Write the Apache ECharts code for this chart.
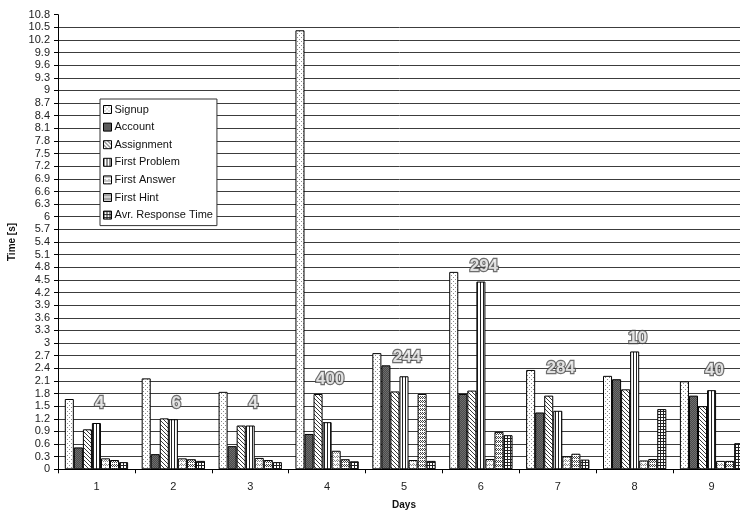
<!DOCTYPE html>
<html>
<head>
<meta charset="utf-8">
<script src="https://cdn.jsdelivr.net/npm/echarts@6/dist/echarts.min.js"></script>
<style>
  html, body { margin: 0; padding: 0; background: #fff; }
  #chart { width: 740px; height: 510px; }
</style>
</head>
<body>
<div id="chart"></div>
<script>
// Days on the x axis
const days = ['1', '2', '3', '4', '5', '6', '7', '8', '9'];

// Mean times in seconds per step and day
const signup       = [1.67, 2.16, 1.84, 10.43, 2.76, 4.69, 2.36, 2.22, 2.09];
const account      = [0.52, 0.36, 0.55, 0.84, 2.47, 1.79, 1.35, 2.14, 1.75];
const assignment   = [0.95, 1.21, 1.04, 1.79, 1.85, 1.87, 1.75, 1.90, 1.50];
const firstProblem = [1.10, 1.19, 1.04, 1.12, 2.21, 4.46, 1.39, 2.80, 1.88];
const firstAnswer  = [0.26, 0.26, 0.27, 0.44, 0.22, 0.245, 0.31, 0.21, 0.20];
const firstHint    = [0.22, 0.24, 0.22, 0.24, 1.79, 0.89, 0.37, 0.245, 0.20];
const avrResponse  = [0.17, 0.20, 0.17, 0.19, 0.20, 0.81, 0.23, 1.43, 0.62];

// Number of users per day and the height (in seconds) where each count is written
const userCounts = [4, 6, 4, 400, 244, 294, 284, 10, 40];
const countAt    = [1.57, 1.57, 1.57, 2.14, 2.65, 4.83, 2.41, 3.12, 2.34];

const seriesNames = ['Signup', 'Account', 'Assignment', 'First Problem',
                     'First Answer', 'First Hint', 'Avr. Response Time'];

// Small monochrome fill patterns, like the classic hatched bar fills
function makePattern(w, h, bg, draw) {
  const c = document.createElement('canvas');
  c.width = w; c.height = h;
  const ctx = c.getContext('2d');
  ctx.fillStyle = bg;
  ctx.fillRect(0, 0, w, h);
  draw(ctx);
  return { image: c, repeat: 'repeat' };
}
function px(ctx, color, pts) {
  ctx.fillStyle = color;
  pts.forEach(p => ctx.fillRect(p[0], p[1], 1, 1));
}

const fills = [
  // sparse dots
  makePattern(4, 4, '#ffffff', ctx => px(ctx, '#8a8a8a', [[1, 1], [3, 3]])),
  // dark fine texture
  makePattern(2, 2, '#4a4a4a', ctx => px(ctx, '#6e6e6e', [[0, 0], [1, 1]])),
  // diagonal hatch
  makePattern(4, 4, '#ffffff', ctx => px(ctx, '#3a3a3a', [[0, 0], [1, 1], [2, 2], [3, 3]])),
  // vertical stripes
  makePattern(3, 1, '#ffffff', ctx => px(ctx, '#222222', [[0, 0]])),
  // light zig-zag
  makePattern(4, 4, '#ffffff', ctx => px(ctx, '#8c8c8c', [[0, 0], [1, 1], [2, 0], [3, 1], [1, 3]])),
  // medium zig-zag
  makePattern(4, 4, '#ffffff', ctx => px(ctx, '#444444', [[0, 0], [1, 1], [2, 2], [3, 1], [0, 2], [2, 0]])),
  // small grid
  makePattern(3, 3, '#ffffff', ctx => {
    ctx.fillStyle = '#222222';
    ctx.fillRect(0, 0, 3, 1);
    ctx.fillRect(0, 0, 1, 3);
  })
];

const seriesData = [signup, account, assignment, firstProblem, firstAnswer, firstHint, avrResponse];

const barSeries = seriesNames.map((name, i) => ({
  name: name,
  type: 'bar',
  data: seriesData[i],
  barGap: '0%',
  barCategoryGap: '17.65%',
  itemStyle: { color: fills[i], borderColor: '#000', borderWidth: 1 },
  emphasis: { disabled: true },
  animation: false
}));

// Outlined user counts written above each day's group
const countSeries = {
  name: 'users',
  type: 'scatter',
  data: countAt,
  symbolSize: 0,
  silent: true,
  z: 10,
  animation: false,
  label: {
    show: true,
    position: 'inside',
    offset: [3, 0],
    formatter: p => String(userCounts[p.dataIndex]),
    fontFamily: 'Liberation Sans, Arial, sans-serif',
    fontWeight: 'bold',
    fontSize: 17,
    color: '#ffffff',
    textBorderColor: '#4a4a4a',
    textBorderWidth: 2.4
  }
};

const chart = echarts.init(document.getElementById('chart'), null, { renderer: 'canvas' });
chart.setOption({
  animation: false,
  backgroundColor: '#ffffff',
  grid: { left: 58, right: -10, top: 14.7, bottom: 40.7, containLabel: false, outerBoundsMode: 'none' },
  legend: {
    data: seriesNames,
    orient: 'vertical',
    left: 100,
    top: 99,
    padding: [5, 4, 5, 3],
    itemWidth: 8,
    itemHeight: 8,
    itemGap: 6.6,
    icon: 'rect',
    backgroundColor: '#ffffff',
    borderColor: '#333',
    borderWidth: 1,
    selectedMode: false,
    itemStyle: { borderColor: '#000', borderWidth: 1 },
    textStyle: { fontFamily: 'Liberation Sans, Arial, sans-serif', fontSize: 11, color: '#111', padding: [0, 0, 0, -2] }
  },
  xAxis: {
    type: 'category',
    data: days,
    name: 'Days',
    nameLocation: 'middle',
    nameGap: 31,
    nameTextStyle: { fontFamily: 'Liberation Sans, Arial, sans-serif', fontWeight: 'bold', fontSize: 10, color: '#111' },
    axisLine: { show: true, lineStyle: { color: '#000', width: 1 } },
    axisTick: { show: true, length: 4, lineStyle: { color: '#000' } },
    axisLabel: { margin: 12, fontFamily: 'Liberation Sans, Arial, sans-serif', fontSize: 11, color: '#222' },
    splitLine: { show: false }
  },
  yAxis: {
    type: 'value',
    min: 0,
    max: 10.8,
    interval: 0.3,
    name: 'Time [s]',
    nameLocation: 'middle',
    nameGap: 35,
    nameTextStyle: { fontFamily: 'Liberation Sans, Arial, sans-serif', fontWeight: 'bold', fontSize: 10, color: '#111' },
    axisLine: { show: true, lineStyle: { color: '#000', width: 1 } },
    axisTick: { show: true, length: 4, lineStyle: { color: '#000' } },
    axisLabel: { margin: 8, fontFamily: 'Liberation Sans, Arial, sans-serif', fontSize: 11, color: '#222' },
    splitLine: { show: true, showMaxLine: false, lineStyle: { color: '#3c3c3c', width: 1 } }
  },
  series: barSeries.concat([countSeries])
});
</script>
</body>
</html>
